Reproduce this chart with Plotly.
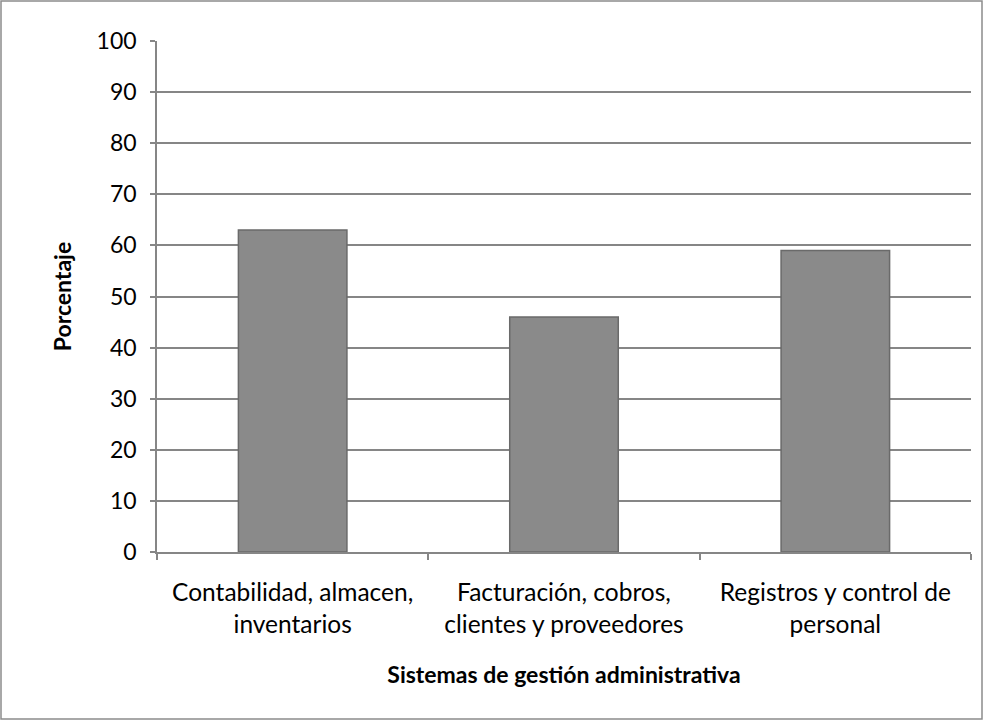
import plotly.graph_objects as go

categories = ["Contabilidad, almacen,<br>inventarios",
              "Facturación, cobros,<br>clientes y proveedores",
              "Registros y control de<br>personal"]
values = [63, 46, 59]
y_ticks = [0, 10, 20, 30, 40, 50, 60, 70, 80, 90, 100]

FONT = "Lato"
FS = 23
GRID = "#868686"

fig = go.Figure()
fig.add_trace(go.Bar(
    x=categories, y=values,
    marker=dict(color="#8a8a8a", line=dict(color="#6a6a6a", width=1.5)),
    width=0.4,
))

W, H = 984, 721
L, R, T, B = 157, 13, 41, 169
pw, ph = W - L - R, H - T - B

def px(x):
    return (x - L) / pw

def py(y):
    return (H - B - y) / ph

fig.update_layout(
    width=W, height=H,
    margin=dict(l=L, r=R, t=T, b=B),
    paper_bgcolor="white", plot_bgcolor="white",
    font=dict(family=FONT, size=FS, color="black"),
    showlegend=False,
    shapes=[dict(type="rect", xref="paper", yref="paper",
                 x0=px(1), x1=px(982), y0=py(1), y1=py(719),
                 line=dict(color="#8c8c8c", width=1.5), layer="below")],
    xaxis=dict(
        showline=True, linecolor=GRID, linewidth=1.5,
        ticks="outside", ticklen=6, tickcolor=GRID, tickwidth=1.5,
        tickson="boundaries", showgrid=False,
        ticklabelstandoff=18,
        tickfont=dict(family=FONT, size=24.5),
        title=dict(text="<b>Sistemas de gestión administrativa</b>",
                   font=dict(family=FONT, size=FS), standoff=30),
    ),
    yaxis=dict(
        range=[0, 100], tickvals=y_ticks,
        showline=True, linecolor=GRID, linewidth=1.5,
        ticks="outside", ticklen=5, tickcolor=GRID, tickwidth=1.5,
        showgrid=True, gridcolor=GRID, gridwidth=1.5,
        zeroline=False,
        ticklabelstandoff=9,
        tickfont=dict(family=FONT, size=FS),
        title=dict(text="<b>Porcentaje</b>",
                   font=dict(family=FONT, size=FS), standoff=19),
    ),
)

fig.write_html("out.html", config={"displayModeBar": False},
               post_script="document.body.style.margin='0';")
